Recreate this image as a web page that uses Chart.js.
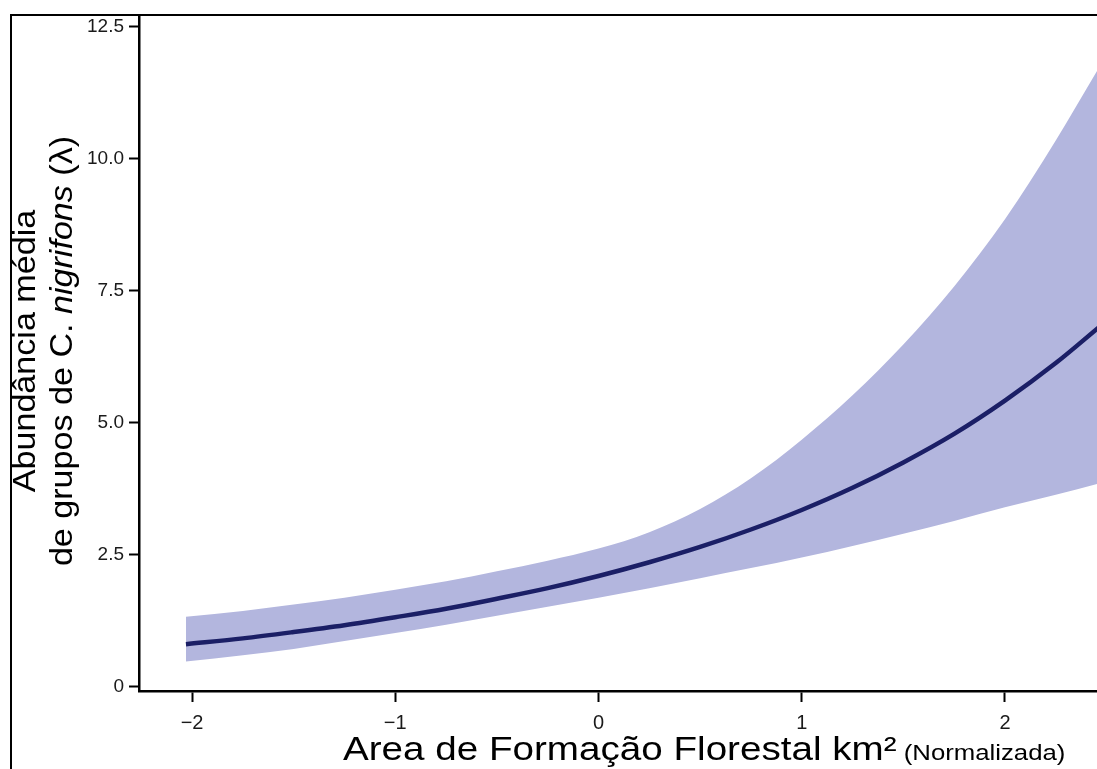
<!DOCTYPE html>
<html>
<head>
<meta charset="utf-8">
<script src="https://cdn.jsdelivr.net/npm/chart.js@4.4.1/dist/chart.umd.min.js"></script>
<style>
  html, body { margin: 0; padding: 0; background: #fff; }
  #wrap { position: relative; width: 1097px; height: 769px; overflow: hidden; }
  #frame { position: absolute; left: 10px; top: 14px; width: 1200px; height: 800px;
           border-left: 2px solid #000; border-top: 2px solid #000; }
  canvas { position: absolute; left: 0; top: 0; }
</style>
</head>
<body>
<div id="wrap">
  <div id="frame"></div>
  <canvas id="chart" width="1097" height="769"></canvas>
</div>
<script>
// area (normalised) vs predicted abundance, with the confidence band
const xValues = [-2.03, -1.75, -1.5, -1.25, -1, -0.75, -0.5, -0.25, 0, 0.25, 0.5, 0.75, 1, 1.25, 1.5, 1.75, 2, 2.25, 2.46]
const fitValues = [0.81, 0.92, 1.04, 1.17, 1.32, 1.48, 1.67, 1.87, 2.10, 2.36, 2.65, 2.98, 3.35, 3.77, 4.25, 4.79, 5.42, 6.13, 6.80]
const upperValues = [1.33, 1.44, 1.56, 1.69, 1.84, 2.00, 2.19, 2.39, 2.62, 2.93, 3.37, 3.95, 4.68, 5.52, 6.48, 7.58, 8.85, 10.34, 11.70]
const lowerValues = [0.48, 0.60, 0.72, 0.87, 1.02, 1.18, 1.35, 1.52, 1.69, 1.87, 2.06, 2.25, 2.45, 2.67, 2.90, 3.14, 3.40, 3.64, 3.85]

const xTicks = [-2, -1, 0, 1, 2]
const yTicks = [0, 2.5, 5, 7.5, 10, 12.5]
const yTickLabels = ["0", "2.5", "5.0", "7.5", "10.0", "12.5"]

const toPoints = vals => xValues.map((x, i) => ({ x: x, y: vals[i] }))

const FONT = "'Liberation Sans', Arial, sans-serif"

// axis titles drawn by hand: mixed sizes and an italic species name
const titlesPlugin = {
  id: "titles",
  afterDraw(chart) {
    const ctx = chart.ctx
    ctx.save()
    ctx.fillStyle = "#000"
    ctx.textBaseline = "alphabetic"
    ctx.textAlign = "left"

    const big = "Area de Formação Florestal km²"
    const small = " (Normalizada)"
    ctx.save()
    ctx.translate(343, 760)
    ctx.scale(1.17, 1)
    ctx.font = "33px " + FONT
    const wBig = ctx.measureText(big).width
    ctx.fillText(big, 0, 0)
    ctx.font = "22px " + FONT
    ctx.fillText(small, wBig, 0)
    ctx.restore()

    const cy = 351
    ctx.save()
    ctx.translate(35, cy)
    ctx.rotate(-Math.PI / 2)
    ctx.scale(1.1, 1)
    ctx.font = "31px " + FONT
    ctx.textAlign = "center"
    ctx.fillText("Abundância média", 0, 0)
    ctx.restore()

    const parts = [
      { t: "de grupos de C. ", f: "31px " + FONT },
      { t: "nigrifons", f: "italic 31px " + FONT },
      { t: " (λ)", f: "31px " + FONT }
    ]
    let total = 0
    parts.forEach(p => { ctx.font = p.f; p.w = ctx.measureText(p.t).width; total += p.w })
    ctx.save()
    ctx.translate(72, cy)
    ctx.rotate(-Math.PI / 2)
    ctx.scale(1.1, 1)
    let px = -total / 2
    parts.forEach(p => { ctx.font = p.f; ctx.fillText(p.t, px, 0); px += p.w })
    ctx.restore()

    ctx.restore()
  }
}

const ctx = document.getElementById("chart").getContext("2d")

new Chart(ctx, {
  type: "line",
  data: {
    datasets: [
      {
        label: "fit",
        data: toPoints(fitValues),
        borderColor: "#1b1f66",
        borderWidth: 4.5,
        pointRadius: 0,
        cubicInterpolationMode: "monotone",
        fill: false,
        order: 0
      },
      {
        label: "upper",
        data: toPoints(upperValues),
        borderWidth: 0,
        borderColor: "rgba(0,0,0,0)",
        backgroundColor: "#b3b6de",
        pointRadius: 0,
        cubicInterpolationMode: "monotone",
        fill: "+1",
        order: 1
      },
      {
        label: "lower",
        data: toPoints(lowerValues),
        borderWidth: 0,
        borderColor: "rgba(0,0,0,0)",
        pointRadius: 0,
        cubicInterpolationMode: "monotone",
        fill: false,
        order: 2
      }
    ]
  },
  options: {
    responsive: false,
    animation: false,
    events: [],
    layout: { padding: { top: 15, right: 0, left: 0, bottom: 0 } },
    scales: {
      x: {
        type: "linear",
        min: -2.261,
        max: 2.453,
        afterBuildTicks: scale => { scale.ticks = xTicks.map(v => ({ value: v })) },
        afterFit: scale => { scale.height = 78 },
        ticks: {
          color: "#1a1a1a",
          font: { family: FONT, size: 20 },
          padding: 9,
          maxRotation: 0,
          callback: v => String(v).replace("-", "−")
        },
        grid: { drawOnChartArea: false, tickLength: 11, tickWidth: 2, tickColor: "#000" },
        border: { display: true, color: "#000", width: 2.5 }
      },
      y: {
        type: "linear",
        min: -0.076,
        max: 12.69,
        afterBuildTicks: scale => { scale.ticks = yTicks.map(v => ({ value: v })) },
        afterFit: scale => { scale.width = 139 },
        ticks: {
          color: "#1a1a1a",
          font: { family: FONT, size: 19 },
          padding: 5,
          callback: v => yTickLabels[yTicks.indexOf(v)]
        },
        grid: { drawOnChartArea: false, tickLength: 10, tickWidth: 2, tickColor: "#000" },
        border: { display: true, color: "#000", width: 2.5 }
      }
    },
    plugins: {
      legend: { display: false },
      tooltip: { enabled: false }
    }
  },
  plugins: [titlesPlugin]
})
</script>
</body>
</html>
